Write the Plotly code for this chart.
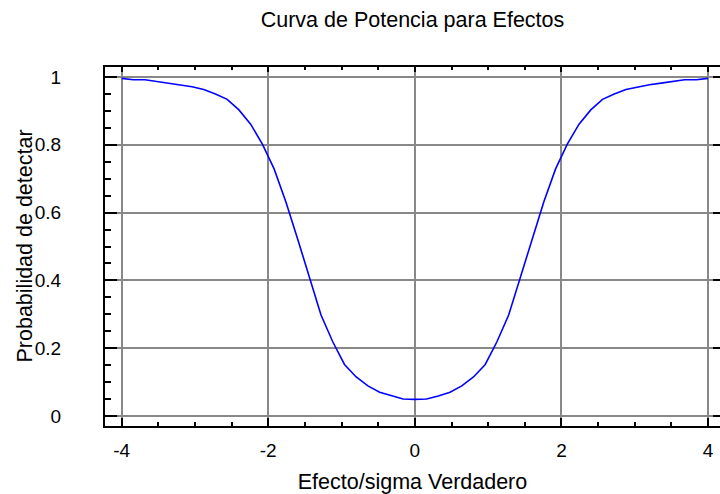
import plotly.graph_objects as go

# Power curve: probability of detecting an effect vs. true effect / sigma
effect = [-4.00, -3.84, -3.68, -3.52, -3.36, -3.20, -3.04, -2.88, -2.72, -2.56,
          -2.40, -2.24, -2.08, -1.92, -1.76, -1.60, -1.44, -1.28, -1.12, -0.96,
          -0.80, -0.64, -0.48, -0.32, -0.16, 0.00, 0.16, 0.32, 0.48, 0.64,
          0.80, 0.96, 1.12, 1.28, 1.44, 1.60, 1.76, 1.92, 2.08, 2.24,
          2.40, 2.56, 2.72, 2.88, 3.04, 3.20, 3.36, 3.52, 3.68, 3.84, 4.00]
prob = [0.996, 0.992, 0.992, 0.987, 0.982, 0.977, 0.971, 0.963, 0.950, 0.934,
        0.903, 0.861, 0.802, 0.729, 0.632, 0.523, 0.408, 0.298, 0.219, 0.152,
        0.115, 0.089, 0.070, 0.059, 0.050, 0.049, 0.050, 0.059, 0.070, 0.089,
        0.115, 0.152, 0.219, 0.298, 0.408, 0.523, 0.632, 0.729, 0.802, 0.861,
        0.903, 0.934, 0.950, 0.963, 0.971, 0.977, 0.982, 0.987, 0.992, 0.992, 0.996]

x_tickvals = [-4, -2, 0, 2, 4]
x_ticktext = ["-4", "-2", "0", "2", "4"]
y_tickvals = [0, 0.2, 0.4, 0.6, 0.8, 1]
y_ticktext = ["0", "0.2", "0.4", "0.6", "0.8", "1"]

X_RANGE = [-4.227, 4.163]
Y_RANGE = [-0.0295, 1.0295]

FONT = "Liberation Sans, Arial, sans-serif"
FS_TITLE = 21.5
FS_TICK = 19
GRID = "#888888"
CLEAR = "rgba(0,0,0,0)"

fig = go.Figure()
fig.add_trace(go.Scatter(
    x=effect, y=prob, mode="lines",
    line=dict(color="#0000ff", width=1.6),
    hoverinfo="x+y", showlegend=False,
))
# invisible traces that activate the extra tick axes
fig.add_trace(go.Scatter(x=[effect[0]], y=[prob[0]], xaxis="x2", yaxis="y2",
                         mode="markers", marker=dict(opacity=0),
                         hoverinfo="skip", showlegend=False))
fig.add_trace(go.Scatter(x=[effect[0]], y=[prob[0]], xaxis="x", yaxis="y3",
                         mode="markers", marker=dict(opacity=0),
                         hoverinfo="skip", showlegend=False))

fig.update_layout(
    width=720, height=494,
    margin=dict(l=105, r=0, t=67, b=68),
    paper_bgcolor="white", plot_bgcolor="white",
    font=dict(family=FONT, size=FS_TICK, color="black"),
    title=dict(text="Curva de Potencia para Efectos", x=0.5, xref="paper",
               xanchor="center", y=0.96, yanchor="middle",
               font=dict(family=FONT, size=FS_TITLE, color="black")),
    xaxis=dict(
        range=X_RANGE,
        tickvals=x_tickvals, ticktext=x_ticktext,
        ticks="inside", ticklen=8, tickwidth=2, tickcolor="black",
        ticklabelstandoff=6,
        minor=dict(dtick=0.5, tick0=0, ticks="inside", ticklen=4, tickwidth=2,
                   tickcolor="black", showgrid=False),
        showline=True, linewidth=2, linecolor="black", mirror=False,
        showgrid=True, gridcolor=GRID, gridwidth=2, zeroline=False,
        title=dict(text="Efecto/sigma Verdadero", standoff=14,
                   font=dict(family=FONT, size=FS_TITLE)),
    ),
    # labelled left axis: clear outside ticks keep the labels away from the frame
    yaxis=dict(
        range=Y_RANGE,
        tickvals=y_tickvals, ticktext=y_ticktext,
        ticks="outside", ticklen=39, tickwidth=1, tickcolor=CLEAR,
        showline=False,
        showgrid=True, gridcolor=GRID, gridwidth=2, zeroline=False,
    ),
    # left frame edge with inside major/minor ticks
    yaxis3=dict(
        range=Y_RANGE, overlaying="y", side="left", anchor="x",
        tickvals=y_tickvals, showticklabels=False,
        ticks="inside", ticklen=12, tickwidth=2, tickcolor="black",
        minor=dict(dtick=0.05, tick0=0, ticks="inside", ticklen=6, tickwidth=2,
                   tickcolor="black", showgrid=False),
        showline=True, linewidth=2, linecolor="black",
        showgrid=False, zeroline=False,
    ),
    # top frame edge with short inside ticks
    xaxis2=dict(
        range=X_RANGE, overlaying="x", side="top", anchor="y",
        tickvals=x_tickvals, showticklabels=False,
        ticks="inside", ticklen=5, tickwidth=2, tickcolor="black",
        minor=dict(dtick=0.5, tick0=0, ticks="inside", ticklen=3, tickwidth=2,
                   tickcolor="black", showgrid=False),
        showline=True, linewidth=2, linecolor="black",
        showgrid=False, zeroline=False,
    ),
    # right side: only the inner ends of the major ticks
    yaxis2=dict(
        range=Y_RANGE, overlaying="y", side="right", anchor="x",
        tickvals=y_tickvals, showticklabels=False,
        ticks="inside", ticklen=7, tickwidth=2, tickcolor="black",
        showline=False, showgrid=False, zeroline=False,
    ),
    annotations=[dict(
        text="Probabilidad de detectar", textangle=-90,
        xref="paper", yref="paper", x=-81 / 615, y=0.5,
        xanchor="center", yanchor="middle", showarrow=False,
        font=dict(family=FONT, size=FS_TITLE, color="black"),
    )],
)

fig.write_html("out.html")
